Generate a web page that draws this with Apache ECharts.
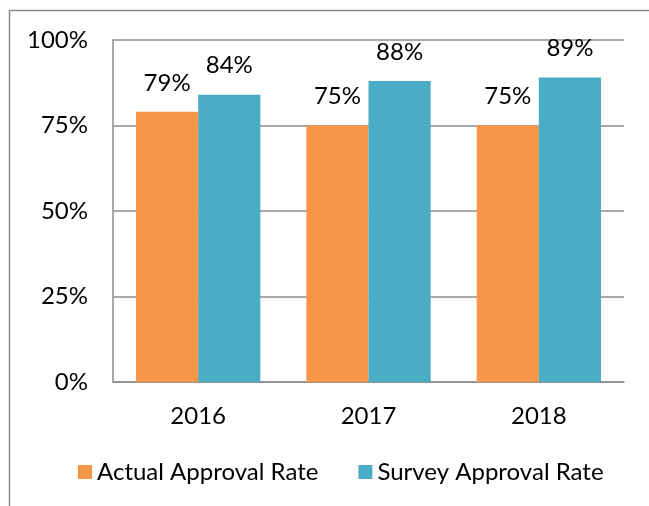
<!DOCTYPE html>
<html>
<head>
<meta charset="utf-8">
<script src="https://cdn.jsdelivr.net/npm/echarts@6/dist/echarts.min.js"></script>
<style>
  html, body { margin: 0; padding: 0; background: #fff; }
  #chart { width: 649px; height: 506px; }
</style>
</head>
<body>
<div id="chart"></div>
<script>
  // 数据
  const years = ['2016', '2017', '2018'];
  const actualRate = [79, 75, 75];
  const surveyRate = [84, 88, 89];
  const yTicks = [0, 25, 50, 75, 100];

  const fontFamily = 'Lato, "Open Sans", sans-serif';
  let myChart = echarts.init(document.getElementById('chart'));
  myChart.setOption({
    color: ['#F79646', '#4BACC6'],
    animation: false,
    graphic: [{
      type: 'rect',
      shape: { x: 9.5, y: 10.5, width: 700, height: 600 },
      style: { fill: 'none', stroke: '#8c8c8c', lineWidth: 1.5 }
    }],
    grid: { left: 113, right: 25, top: 40, bottom: 124 },
    legend: {
      bottom: 17,
      left: 73,
      itemWidth: 14,
      itemHeight: 14,
      itemGap: 40,
      icon: 'rect',
      textStyle: { fontSize: 24, color: '#000', fontFamily: fontFamily },
      data: ['Actual Approval Rate', 'Survey Approval Rate']
    },
    xAxis: {
      type: 'category',
      data: years,
      axisLine: { lineStyle: { color: '#8c8c8c', width: 1.5 } },
      axisTick: { show: false },
      axisLabel: { fontSize: 24, color: '#000', margin: 22, fontFamily: fontFamily }
    },
    yAxis: {
      type: 'value',
      min: yTicks[0],
      max: yTicks[yTicks.length - 1],
      interval: 25,
      axisLine: { show: true, lineStyle: { color: '#8c8c8c', width: 1.5 } },
      axisTick: { show: false },
      splitLine: { lineStyle: { color: '#8c8c8c', width: 1.5 } },
      axisLabel: { fontSize: 24, color: '#000', margin: 25, fontFamily: fontFamily, formatter: '{value}%' }
    },
    series: [{
      name: 'Actual Approval Rate',
      type: 'bar',
      data: actualRate,
      barGap: '0%',
      barCategoryGap: '27%',
      label: { show: true, position: 'top', distance: 17, fontSize: 24, color: '#000', fontFamily: fontFamily, formatter: '{c}%' }
    }, {
      name: 'Survey Approval Rate',
      type: 'bar',
      data: surveyRate,
      label: { show: true, position: 'top', distance: 17, fontSize: 24, color: '#000', fontFamily: fontFamily, formatter: '{c}%' }
    }]
  });
</script>
</body>
</html>
